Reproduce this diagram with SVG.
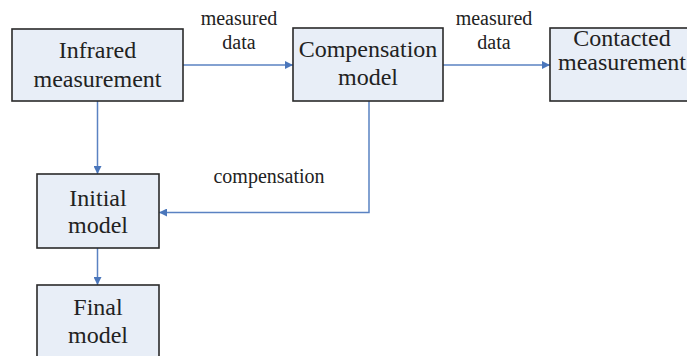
<svg xmlns="http://www.w3.org/2000/svg" width="687" height="356" viewBox="0 0 687 356">
<defs>
<marker id="arr" viewBox="0 0 10 10" refX="10" refY="5" markerWidth="8" markerHeight="8" markerUnits="userSpaceOnUse" orient="auto">
<path d="M0,0 L10,5 L0,10 z" fill="#4a76bb"/>
</marker>
<style>
.box{fill:#e8eef7;stroke:#2a2a2a;stroke-width:1.6}
.t{font-size:24px;fill:#222;text-anchor:middle}
.l{font-size:20px;fill:#222;text-anchor:middle}
.c{fill:none;stroke:#5a82c2;stroke-width:1.5;marker-end:url(#arr)}
</style>
</defs>
<rect width="687" height="356" fill="#ffffff"/>
<g id="connectors" font-family="Liberation Serif, DejaVu Serif, serif">
<path class="c" d="M183,65 H293"/>
<path class="c" d="M443,65 H550"/>
<path class="c" d="M97.5,101 V174"/>
<path class="c" d="M369,101 V212.5 H159"/>
<path class="c" d="M97.5,248 V285"/>
<text class="l" x="239" y="25">measured</text>
<text class="l" x="239" y="49">data</text>
<text class="l" x="494" y="25">measured</text>
<text class="l" x="494" y="49">data</text>
<text class="l" x="269" y="183">compensation</text>
</g>
<g id="infrared" font-family="Liberation Serif, DejaVu Serif, serif">
<rect class="box" x="12" y="29" width="171" height="72"/>
<text class="t" x="97.5" y="58">Infrared</text>
<text class="t" x="97.5" y="87">measurement</text>
</g>
<g id="compensation" font-family="Liberation Serif, DejaVu Serif, serif">
<rect class="box" x="293" y="28" width="150" height="73"/>
<text class="t" x="368" y="57">Compensation</text>
<text class="t" x="368" y="85">model</text>
</g>
<g id="contacted" font-family="Liberation Serif, DejaVu Serif, serif">
<rect class="box" x="550" y="28" width="150" height="73"/>
<text class="t" x="622" y="46">Contacted</text>
<text class="t" x="622" y="70">measurement</text>
</g>
<g id="initial" font-family="Liberation Serif, DejaVu Serif, serif">
<rect class="box" x="37" y="174" width="122" height="74"/>
<text class="t" x="98" y="206">Initial</text>
<text class="t" x="98" y="233">model</text>
</g>
<g id="final" font-family="Liberation Serif, DejaVu Serif, serif">
<rect class="box" x="37" y="285" width="122" height="80"/>
<text class="t" x="98" y="315">Final</text>
<text class="t" x="98" y="343">model</text>
</g>
</svg>
